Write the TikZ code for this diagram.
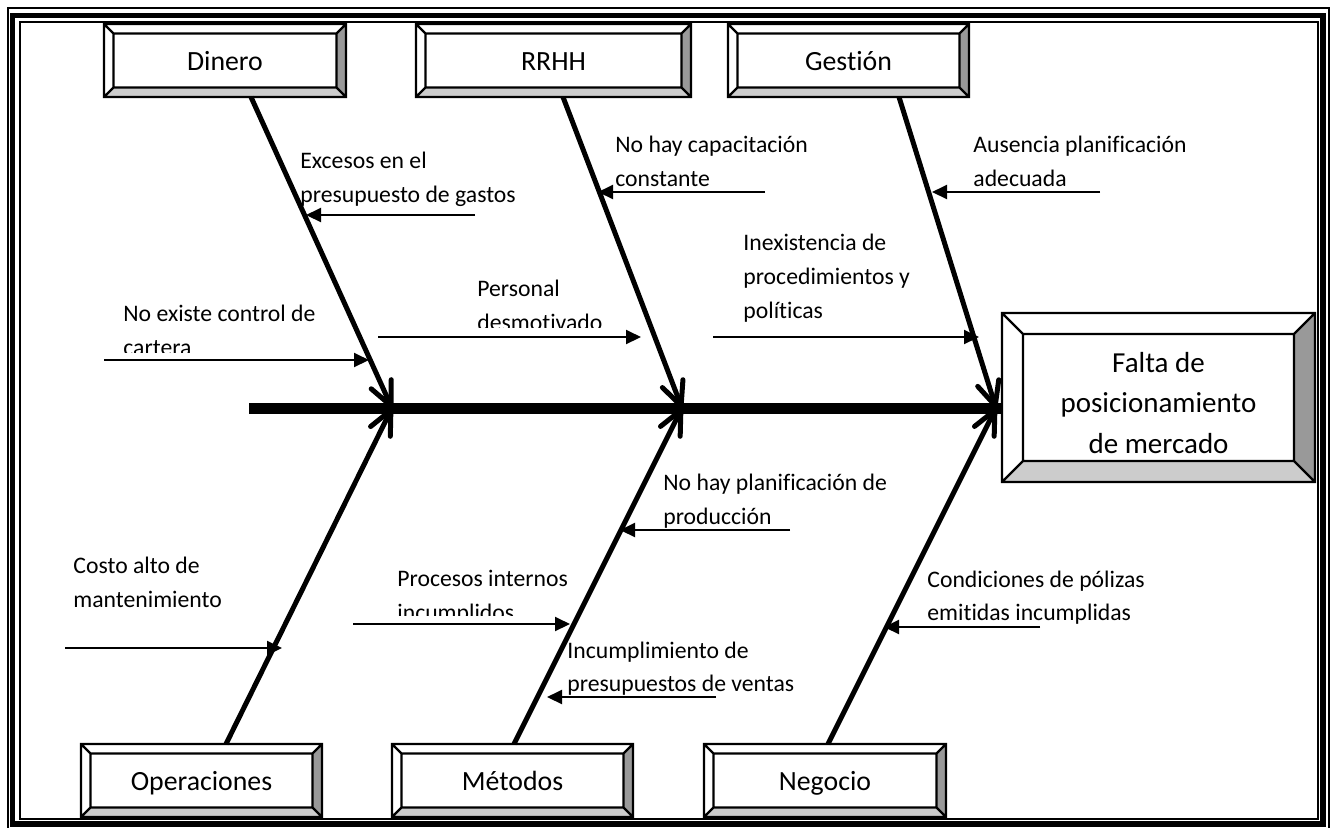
\documentclass[tikz,border=0pt]{standalone}
\usepackage{fontspec}
\setmainfont{Carlito}[Ligatures={NoCommon}]
\usetikzlibrary{arrows.meta,calc}
\newcommand\bevelbox[3]{%
  \coordinate (#1-inw) at ($(#1.north west)+(#2,#2)$);
  \coordinate (#1-ine) at ($(#1.north east)+(-#2,#2)$);
  \coordinate (#1-ise) at ($(#1.south east)+(-#2,-#2)$);
  \coordinate (#1-isw) at ($(#1.south west)+(#2,-#2)$);
  \fill[bevdark] (#1.north east) -- (#1.south east) -- (#1-ise) -- (#1-ine) -- cycle;
  \fill[bevlight] (#1.south west) -- (#1.south east) -- (#1-ise) -- (#1-isw) -- cycle;
  \draw[line width=#3, line join=miter]
    (#1.north west) rectangle (#1.south east)
    (#1-inw) rectangle (#1-ise)
    (#1.north west) -- (#1-inw) (#1.north east) -- (#1-ine)
    (#1.south east) -- (#1-ise) (#1.south west) -- (#1-isw);
}
\newcommand\lbl[4]{\node[txt] (#1) at (#2,#3) {#4};}
\begin{document}
\begin{tikzpicture}[x=0.5pt,y=-0.5pt,
  bevdark/.style={fill=black!40},
  bevlight/.style={fill=black!20},
  catbox/.style={draw, line width=1.2pt, fill=white, inner sep=0pt, outer sep=0pt,
    minimum width=#1, minimum height=36.5pt, text height=13.2pt, text depth=2.8pt,
    font=\fontsize{13.9}{16}\selectfont},
  effectbox/.style={draw, line width=1.2pt, fill=white, inner sep=0pt, outer sep=0pt,
    minimum width=156.5pt, minimum height=84.5pt},
  effecttxt/.style={align=center, inner sep=0pt, font=\fontsize{14.5}{20.25}\selectfont},
  txt/.style={anchor=base west, inner sep=0pt, font=\fontsize{11.85}{14}\selectfont},
  spine/.style={line width=5.5pt},
  bone/.style={line width=2.5pt, -{Straight Barb[length=11.8pt,width=11pt,round]}},
  cause/.style={line width=1pt, -{Triangle[length=7.5pt,width=7pt]}},
  frame/.style={line width=#1}
]
\useasboundingbox (0,0) rectangle (1334,827);
% frame
\draw[frame=1pt] (7.5,7.5) rectangle (1328.5,832);
\draw[frame=2.75pt] (12.5,15.5) rectangle (1323,824);
\draw[frame=1pt] (19.5,21.5) rectangle (1317.5,818.5);

% category boxes
\node[catbox=121pt] (dinero) at (225,60.5) {Dinero};
\bevelbox{dinero}{9.5}{1.2pt}
\node[catbox=137.5pt] (rrhh) at (553.5,60.5) {RRHH};
\bevelbox{rrhh}{9.5}{1.2pt}
\node[catbox=120.5pt] (gestion) at (848.5,60.5) {Gestión};
\bevelbox{gestion}{9.5}{1.2pt}
\node[catbox=120.5pt] (operaciones) at (201.5,780.5) {Operaciones};
\bevelbox{operaciones}{9.5}{1.2pt}
\node[catbox=120.5pt] (metodos) at (512.5,780.5) {Métodos};
\bevelbox{metodos}{9.5}{1.2pt}
\node[catbox=121pt] (negocio) at (825,780.5) {Negocio};
\bevelbox{negocio}{9.5}{1.2pt}

% effect box
\node[effectbox] (effect) at (1158.5,397.5) {};
\bevelbox{effect}{21}{1.2pt}
\node[effecttxt] (effect-t) at (1158.5,403) {Falta de\\posicionamiento\\de mercado};

% spine and bones
\coordinate (spine-start) at (249,408);
\coordinate (j1) at (392,408);
\coordinate (j2) at (682,408);
\coordinate (j3) at (996,408);
\draw[spine] (spine-start) -- (j3 -| effect.west);
\coordinate (dinero-b) at ($(dinero.south)+(26,0)$);
\coordinate (rrhh-b) at ($(rrhh.south)+(9.5,0)$);
\coordinate (gestion-b) at ($(gestion.south)+(50.5,0)$);
\coordinate (operaciones-b) at ($(operaciones.north)+(24.5,0)$);
\coordinate (metodos-b) at ($(metodos.north)+(1.5,0)$);
\coordinate (negocio-b) at ($(negocio.north)+(3,0)$);
\draw[bone] (dinero-b) -- (j1);
\draw[bone] (rrhh-b) -- (j2);
\draw[bone] (gestion-b) -- (j3);
\draw[bone] (operaciones-b) -- (j1);
\draw[bone] (metodos-b) -- (j2);
\draw[bone] (negocio-b) -- (j3);

% cause arrows
\coordinate (c1s) at (475,215);  \coordinate (c1e) at (306,215);
\coordinate (c2s) at (104,360);  \coordinate (c2e) at (369,360);
\coordinate (c3s) at (378,337);  \coordinate (c3e) at (641,337);
\coordinate (c4s) at (765,192);  \coordinate (c4e) at (598,192);
\coordinate (c5s) at (1100,192); \coordinate (c5e) at (932,192);
\coordinate (c6s) at (713,337);  \coordinate (c6e) at (979,337);
\coordinate (c7s) at (790,530);  \coordinate (c7e) at (620,530);
\coordinate (c8s) at (65,648);   \coordinate (c8e) at (282,648);
\coordinate (c9s) at (353,624);  \coordinate (c9e) at (570,624);
\coordinate (c10s) at (716,697); \coordinate (c10e) at (547,697);
\coordinate (c11s) at (1040,627); \coordinate (c11e) at (884,627);
\foreach \i in {1,...,11}{\draw[cause] (c\i s) -- (c\i e);}

% cause labels
\lbl{t1a}{300}{168}{Excesos en el}
\lbl{t1b}{300}{202}{presupuesto de gastos}
\lbl{t2a}{123}{321}{No existe control de}
\begin{scope}\clip (0,0) rectangle (1334,352);
\lbl{t2b}{123}{355}{cartera}
\end{scope}
\lbl{t3a}{477}{296}{Personal}
\begin{scope}\clip (0,0) rectangle (1334,327);
\lbl{t3b}{477}{330}{desmotivado}
\end{scope}
\lbl{t4a}{615}{152}{No hay capacitación}
\lbl{t4b}{615}{186}{constante}
\lbl{t5a}{973}{152}{Ausencia planificación}
\lbl{t5b}{973}{186}{adecuada}
\lbl{t6a}{743}{250}{Inexistencia de}
\lbl{t6b}{743}{284}{procedimientos y}
\lbl{t6c}{743}{318}{políticas}
\lbl{t7a}{663}{490}{No hay planificación de}
\lbl{t7b}{663}{524}{producción}
\lbl{t8a}{73}{573}{Costo alto de}
\lbl{t8b}{73}{607}{mantenimiento}
\lbl{t9a}{397}{586}{Procesos internos}
\begin{scope}\clip (0,0) rectangle (1334,615);
\lbl{t9b}{397}{620}{incumplidos}
\end{scope}
\lbl{t10a}{567}{658}{Incumplimiento de}
\lbl{t10b}{567}{691}{presupuestos de ventas}
\lbl{t11a}{927}{587}{Condiciones de pólizas}
\lbl{t11b}{927}{620}{emitidas incumplidas}
\end{tikzpicture}
\end{document}
